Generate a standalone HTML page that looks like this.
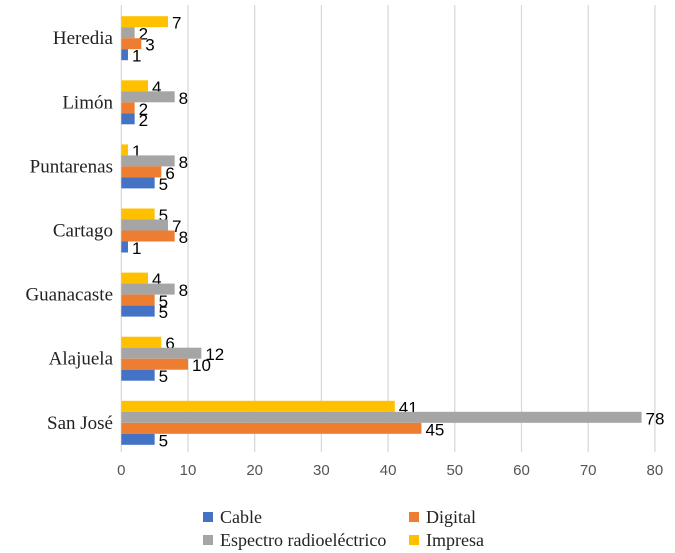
<!DOCTYPE html>
<html><head><meta charset="utf-8">
<style>
html,body{margin:0;padding:0;background:#fff;}
svg{display:block;}
.cat{font-family:"Liberation Serif",serif;font-size:19px;fill:#222;}
.val{font-family:"Liberation Sans",sans-serif;font-size:17px;fill:#000;}
.tick{font-family:"Liberation Sans",sans-serif;font-size:15px;fill:#555;}
.leg{font-family:"Liberation Serif",serif;font-size:18px;fill:#222;}
</style></head>
<body>
<svg id="chart" width="675" height="553" xmlns="http://www.w3.org/2000/svg"></svg>
<script>
const categories = ["Heredia","Limón","Puntarenas","Cartago","Guanacaste","Alajuela","San José"];
const seriesNames = ["Impresa","Espectro radioeléctrico","Digital","Cable"];
const impresa = [7,4,1,5,4,6,41];
const espectro = [2,8,8,7,8,12,78];
const digital = [3,2,6,8,5,10,45];
const cable = [1,2,5,1,5,5,5];
const ticks = [0,10,20,30,40,50,60,70,80];

const colors = ["#FFC000","#A5A5A5","#ED7D31","#4472C4"];
const series = [impresa, espectro, digital, cable];
const svg = document.getElementById('chart');
const NS = "http://www.w3.org/2000/svg";
const x0 = 121.3, pxPer = 6.67, top0 = 16.2, groupH = 64.1, barH = 11;
const xs = v => x0 + v * pxPer;
const plotTop = 5, plotBot = 452;
function mk(tag, attrs){const e=document.createElementNS(NS,tag);for(const k in attrs)e.setAttribute(k,attrs[k]);svg.appendChild(e);return e;}

ticks.forEach(t=>{
  const g = mk('line',{x1:xs(t),x2:xs(t),y1:plotTop,y2:plotBot,stroke:'#d9d9d9','stroke-width':1.3});
  
  
  const tl = mk('text',{x:xs(t),y:475,'text-anchor':'middle',class:'tick'});
  tl.textContent = t;
  
  
});

categories.forEach((c,i)=>{
  const gTop = top0 + i*groupH;
  const cl = mk('text',{x:113,y:gTop+22+6,'text-anchor':'end',class:'cat'});
  cl.textContent = c;
  
  
  series.forEach((s,k)=>{
    const y = gTop + k*barH;
    const r = mk('rect',{x:xs(0),y:y,width:xs(s[i])-xs(0),height:barH,fill:colors[k]});
    
    
    const v = mk('text',{x:xs(s[i])+4,y:y+barH/2+7,class:'val'});
    v.textContent = s[i];
    
    
  });
});

const legend = [["Cable","#4472C4",203,517],["Digital","#ED7D31",409,517],["Espectro radioeléctrico","#A5A5A5",203,540],["Impresa","#FFC000",409,540]];
legend.forEach(l=>{
  const r = mk('rect',{x:l[2],y:l[3]-5,width:10,height:10,fill:l[1]});
  
  
  const t = mk('text',{x:l[2]+17,y:l[3]+6,class:'leg'});
  t.textContent = l[0];
  
  
});
</script>
</body></html>
